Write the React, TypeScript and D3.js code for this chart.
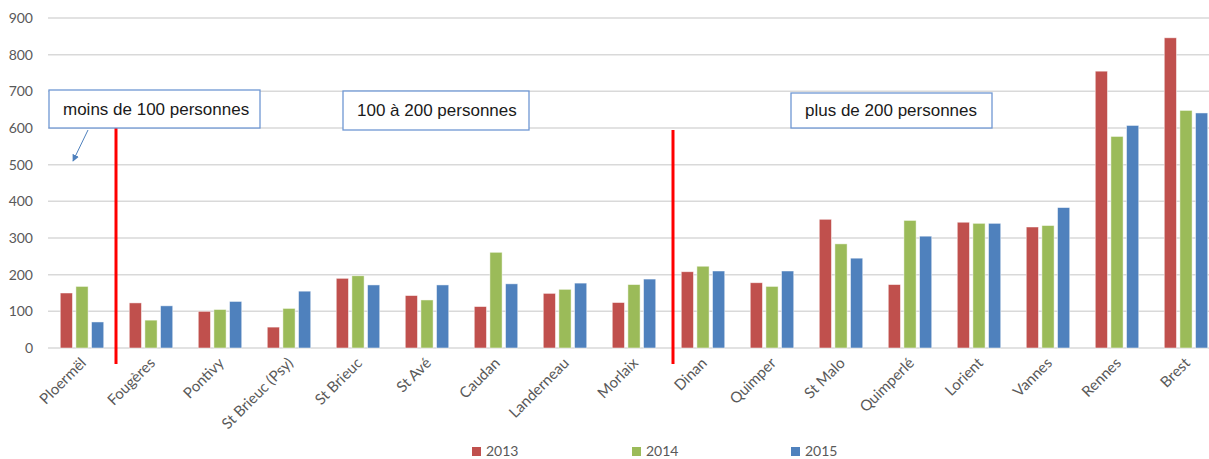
import React from "react";
import * as d3 from "d3";

const categories = [
  "Ploermël", "Fougères", "Pontivy", "St Brieuc (Psy)", "St Brieuc", "St Avé",
  "Caudan", "Landerneau", "Morlaix", "Dinan", "Quimper", "St Malo",
  "Quimperlé", "Lorient", "Vannes", "Rennes", "Brest",
];
const series = ["2013", "2014", "2015"];
const values2013 = [150, 123, 100, 57, 190, 143, 113, 149, 124, 208, 178, 351, 173, 343, 330, 755, 846];
const values2014 = [168, 76, 105, 108, 197, 131, 261, 160, 173, 223, 168, 284, 348, 340, 334, 577, 648];
const values2015 = [71, 115, 127, 155, 172, 172, 175, 177, 188, 210, 210, 245, 305, 340, 383, 607, 641];
const yTicks = [0, 100, 200, 300, 400, 500, 600, 700, 800, 900];
const colors = ["#C0504D", "#9BBB59", "#4F81BD"];
const annotations = [
  { text: "moins de 100 personnes", x0: 49, x1: 260, y0: 90, y1: 128, tx: 63 },
  { text: "100 à 200 personnes", x0: 343, x1: 529, y0: 91, y1: 130, tx: 357 },
  { text: "plus de 200 personnes", x0: 791, x1: 992, y0: 93, y1: 128, tx: 805 },
];
const separators = [{ x: 116, y0: 128, y1: 364 }, { x: 673, y0: 130, y1: 364 }];

export default function App() {
  const W = 1209, H = 459;
  const x = d3.scaleBand<string>().domain(categories).range([47.5, 1220.5]).paddingInner(0.37).paddingOuter(0.185);
  const xi = d3.scaleBand<string>().domain(series).range([0, x.bandwidth()]).paddingInner(0.22);
  const y = d3.scaleLinear().domain([0, 900]).range([348, 18]);
  const data = [values2013, values2014, values2015];
  const font = "Lato, 'Open Sans', sans-serif";
  const legendX = [472, 632, 791];
  return (
    <svg width={W} height={H} style={{ position: "absolute", left: 0, top: 0, background: "#fff" }}>
      <defs>
        <marker id="arr" viewBox="0 0 10 10" refX="9" refY="5" markerWidth="7" markerHeight="7" orient="auto">
          <path d="M0,0 L10,5 L0,10 z" fill="#4F81BD" />
        </marker>
      </defs>
      {yTicks.map((t) => (
        <g key={t}>
          <line x1={48} x2={W} y1={y(t)} y2={y(t)} stroke="#d9d9d9" strokeWidth={1.5} />
          <text x={33} y={y(t)} dy="0.35em" textAnchor="end" fontSize={14} fill="#595959" fontFamily={font}>{t}</text>
        </g>
      ))}
      {categories.map((c, i) => (
        <g key={c} transform={`translate(${x(c)},0)`}>
          {series.map((s, j) => (
            <rect key={s} x={xi(s)} width={xi.bandwidth()} y={y(data[j][i])} height={y(0) - y(data[j][i])}
              fill={colors[j]} stroke="#ffffff" strokeOpacity={0.6} strokeWidth={0.8} />
          ))}
          <text transform={`translate(${x.bandwidth() / 2 + 5},364) rotate(-45)`} textAnchor="end" fontSize={15} fill="#595959" fontFamily={font}>{c}</text>
        </g>
      ))}
      {separators.map((s, i) => (
        <line key={i} x1={s.x} x2={s.x} y1={s.y0} y2={s.y1} stroke="#ff0000" strokeWidth={3} />
      ))}
      {annotations.map((a, i) => (
        <g key={i}>
          <rect x={a.x0} y={a.y0} width={a.x1 - a.x0} height={a.y1 - a.y0} fill="#fff" stroke="#6f97d3" strokeWidth={1.3} />
          <text x={a.tx} y={(a.y0 + a.y1) / 2} dy="0.35em" fontSize={17} fill="#1a1a1a" fontFamily="'Liberation Sans', Arial, sans-serif">{a.text}</text>
        </g>
      ))}
      <line x1={88} y1={130} x2={73} y2={161} stroke="#4F81BD" strokeWidth={1} markerEnd="url(#arr)" />
      {series.map((s, j) => (
        <g key={s}>
          <rect x={legendX[j]} y={447} width={9} height={9} fill={colors[j]} />
          <text x={legendX[j] + 14} y={456} fontSize={14} fill="#595959" fontFamily={font}>{s}</text>
        </g>
      ))}
    </svg>
  );
}
